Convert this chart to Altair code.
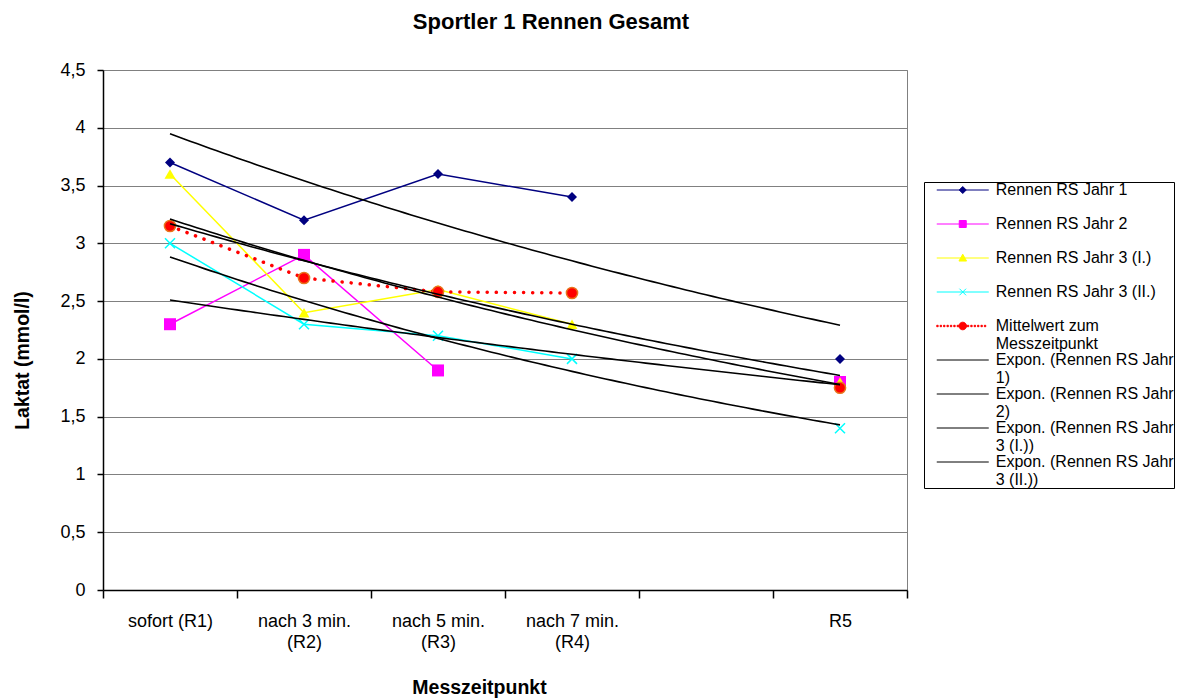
import json
import altair as alt
import pandas as pd

FONT = "Liberation Sans"

# ---------------- data ----------------
categories = ["sofort (R1)", "nach 3 min.|(R2)", "nach  5 min.|(R3)", "nach 7 min.|(R4)", "", "R5"]
x_pos = [1, 2, 3, 4, 5, 6]
x_bounds = [0.5, 1.5, 2.5, 3.5, 4.5, 5.5, 6.5]
y_ticks = [0, 0.5, 1, 1.5, 2, 2.5, 3, 3.5, 4, 4.5]

jahr1 = [3.7, 3.2, 3.6, 3.4, None, 2.0]
jahr2 = [2.3, 2.9, 1.9, None, None, 1.8]
jahr3_i = [3.6, 2.4, 2.6, 2.3, None, 1.8]
jahr3_ii = [3.0, 2.3, 2.2, 2.0, None, 1.4]
mittelwert = [3.15, 2.7, 2.58, 2.57, None, 1.75]

series_names = ["Rennen RS Jahr 1", "Rennen RS Jahr 2", "Rennen RS Jahr 3 (I.)",
                "Rennen RS Jahr 3 (II.)", "Mittelwert zum Messzeitpunkt"]
series_values = [jahr1, jahr2, jahr3_i, jahr3_ii, mittelwert]
series_colors = ["#000080", "#FF00FF", "#FFFF00", "#00FFFF", "#FF0000"]
# every series carries an exponential trendline; the legend box only lists the first four
trend_names = ["Expon. (" + s + ")" for s in series_names]

legend_names = series_names + trend_names[:4]
legend_labels = ["Rennen RS Jahr 1|", "Rennen RS Jahr 2|", "Rennen RS Jahr 3 (I.)|",
                 "Rennen RS Jahr 3 (II.)|", "Mittelwert zum|Messzeitpunkt",
                 "Expon. (Rennen RS Jahr|1)", "Expon. (Rennen RS Jahr|2)",
                 "Expon. (Rennen RS Jahr|3 (I.))", "Expon. (Rennen RS Jahr|3 (II.))"]

rows = []
for name, vals in zip(series_names, series_values):
    for x, v in zip(x_pos, vals):
        rows.append({"series": name, "x": x, "v": v})
df = pd.DataFrame(rows)

trows = []
for tname, vals in zip(trend_names, series_values):
    for x, v in zip(x_pos, vals):
        if v is not None:
            trows.append({"trend": tname, "x": x, "v": v})
df_trend = pd.DataFrame(trows)

# ---------------- legend symbol paths (unit = sqrt(symbolSize)/2 px) ----------------
LEG_FS = 16
SYM_SIZE = 100
R = (SYM_SIZE ** 0.5) / 2.0
HALF = 26.0 / R  # half length of the legend line sample


def f(v):
    return f"{v:.4f}"


def line_path():
    return f"M{f(-HALF)},0L{f(HALF)},0"


def marker_path(kind, px):
    h = px / R
    if kind == "diamond":
        return f"M0,{f(-h)}L{f(h)},0L0,{f(h)}L{f(-h)},0Z"
    if kind == "square":
        return f"M{f(-h)},{f(-h)}L{f(h)},{f(-h)}L{f(h)},{f(h)}L{f(-h)},{f(h)}Z"
    if kind == "triangle":
        return f"M0,{f(-h)}L{f(h)},{f(h*0.8)}L{f(-h)},{f(h*0.8)}Z"
    if kind == "cross":
        return f"M{f(-h)},{f(-h)}L{f(h)},{f(h)}M{f(-h)},{f(h)}L{f(h)},{f(-h)}"
    if kind == "circle":
        return f"M{f(h)},0A{f(h)},{f(h)},0,1,1,{f(-h)},0A{f(h)},{f(h)},0,1,1,{f(h)},0Z"
    return ""


def dotted_path():
    parts = []
    d = 1.4 / R
    step = 3.4 / R
    x0 = -HALF
    while x0 <= HALF - d:
        parts.append(f"M{f(x0)},{f(-d/2)}L{f(x0+d)},{f(-d/2)}L{f(x0+d)},{f(d/2)}L{f(x0)},{f(d/2)}Z")
        x0 += step
    return "".join(parts)


legend_paths = [
    line_path() + marker_path("diamond", 3.5),
    line_path() + marker_path("square", 3.5),
    line_path() + marker_path("triangle", 3.8),
    line_path() + marker_path("cross", 3.3),
    dotted_path() + marker_path("circle", 3.8),
    line_path(), line_path(), line_path(), line_path(),
]
legend_fill = series_colors + ["#000000"] * 4
legend_stroke = series_colors + ["#000000"] * 4

# ---------------- axes ----------------
x_label_expr = "split(" + json.dumps(categories) + "[round(datum.value - 0.5)] || '', '|')"

x_axis = alt.Axis(
    values=x_bounds, labelExpr=x_label_expr, labelOffset=67, tickSize=8,
    labelPadding=14, grid=False, labelFont=FONT, labelFontSize=18, labelLineHeight=21,
    labelBaseline="top", labelAlign="center", labelOverlap=False, labelBound=False,
    labelFlush=False, labelColor="black", domainColor="black", tickColor="black",
    domainWidth=1.5, tickWidth=1.5,
    title="Messzeitpunkt", titleFont=FONT, titleFontSize=19.5, titleFontWeight="bold",
    titleColor="black", titleX=376, titleY=103, titleAlign="center",
    titleBaseline="alphabetic",
)

y_axis = alt.Axis(
    values=y_ticks, labelExpr="replace(toString(datum.value), '.', ',')",
    grid=True, gridColor="#808080", gridWidth=1, tickSize=6, labelPadding=12,
    labelFont=FONT, labelFontSize=18, labelColor="black", domainColor="black",
    tickColor="black", domainWidth=1.5, tickWidth=1.5,
    title="Laktat (mmol/l)", titleFont=FONT, titleFontSize=19.5, titleFontWeight="bold",
    titleColor="black", titleX=-81, titleY=290, titleAngle=270, titleAlign="center",
    titleBaseline="middle",
)

xs = alt.Scale(domain=[0.5, 6.5], nice=False, zero=False)
ys = alt.Scale(domain=[0, 4.5], nice=False)
X = alt.X("x:Q", scale=xs, axis=x_axis)
Y = alt.Y("v:Q", scale=ys, axis=y_axis)

layers = []
shapes = ["diamond", "square", "triangle-up", "M-1,-1L1,1M-1,1L1,-1", "circle"]
sizes = [100, 144, 120, 100, 125]
for i, (name, color) in enumerate(zip(series_names, series_colors)):
    base = alt.Chart(df).transform_filter(alt.datum.series == name)
    if i == 4:
        ln = base.mark_line(color=color, strokeWidth=3.5, strokeDash=[0.1, 9],
                            strokeCap="round", invalid="break-paths-show-domains")
        pt = base.transform_filter("isValid(datum.v)").mark_point(
            shape="circle", filled=True, fill="#FF0000", stroke="#E8741C",
            strokeWidth=1.5, size=sizes[i], opacity=1)
    elif i == 3:
        ln = base.mark_line(color=color, strokeWidth=1.5, invalid="break-paths-show-domains")
        pt = base.transform_filter("isValid(datum.v)").mark_point(
            shape=shapes[i], filled=False, color=color, strokeWidth=1.5,
            size=sizes[i], opacity=1)
    else:
        ln = base.mark_line(color=color, strokeWidth=1.5, invalid="break-paths-show-domains")
        pt = base.transform_filter("isValid(datum.v)").mark_point(
            shape=shapes[i], filled=True, color=color, size=sizes[i], opacity=1)
    layers.append(ln.encode(x=X, y=Y))
    layers.append(pt.encode(x=X, y=Y))

# exponential trendlines: least squares on ln(y), as in the spreadsheet
trend = (
    alt.Chart(df_trend)
    .transform_calculate(lv="log(datum.v)")
    .transform_regression("x", "lv", groupby=["trend"], params=True)
    .transform_calculate(tgroup="datum.keys[0]", xs="sequence(1, 6.001, 0.05)")
    .transform_flatten(["xs"])
    .transform_calculate(x="datum.xs", v="exp(datum.coef[0] + datum.coef[1] * datum.xs)")
    .mark_line(color="black", strokeWidth=1.6)
    .encode(x=X, y=Y, detail="tgroup:N")
)
layers.append(trend)

legend_label_expr = ("split(" + json.dumps(legend_labels) + "[indexof(" + json.dumps(legend_names)
                     + ", datum.label)], '|')")
lg = alt.Legend(
    title=None, orient="none", legendX=821, legendY=112, direction="vertical",
    symbolSize=SYM_SIZE, symbolStrokeWidth=1, symbolOffset=30.75, labelOffset=25,
    labelExpr=legend_label_expr, labelFont=FONT, labelFontSize=LEG_FS,
    labelBaseline="middle", labelLimit=400, labelColor="black", rowPadding=0,
    padding=0, strokeColor="black", fillColor="white",
)
legend_layer = (
    alt.Chart(df).transform_filter("false").mark_point(filled=True, opacity=1)
    .encode(
        x=X, y=Y,
        fill=alt.Fill("series:N", scale=alt.Scale(domain=legend_names, range=legend_fill), legend=lg),
        stroke=alt.Stroke("series:N", scale=alt.Scale(domain=legend_names, range=legend_stroke), legend=lg),
        shape=alt.Shape("series:N", scale=alt.Scale(domain=legend_names, range=legend_paths), legend=lg),
    )
)
layers.append(legend_layer)

chart = (
    alt.layer(*layers)
    .properties(
        width=804, height=520,
        title=alt.TitleParams("Sportler 1 Rennen Gesamt", font=FONT, fontSize=22,
                              fontWeight="bold", anchor="middle", frame="group", dx=46,
                              offset=27, color="black"),
        autosize=alt.AutoSizeParams(type="none"),
        padding={"left": 103, "top": 70, "right": 289, "bottom": 108},
    )
    .configure(font=FONT, background="white")
    .configure_view(stroke="#808080", strokeWidth=1)
)

chart.save("out.html", embed_options={"renderer": "svg", "actions": False})
